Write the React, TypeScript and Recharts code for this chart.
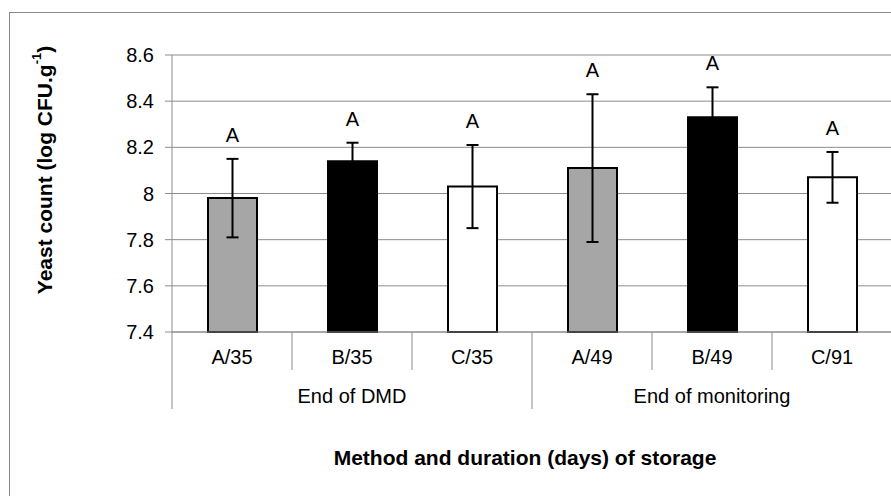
import { BarChart, Bar, XAxis, YAxis, CartesianGrid, ErrorBar, Cell, LabelList } from "recharts";

// data
const categories = ["A/35", "B/35", "C/35", "A/49", "B/49", "C/91"];
const groupOf = [0, 0, 0, 1, 1, 1];
const groups = ["End of DMD", "End of monitoring"];
const means = [7.98, 8.14, 8.03, 8.11, 8.33, 8.07];
const sds = [0.17, 0.08, 0.18, 0.32, 0.13, 0.11];
const letters = ["A", "A", "A", "A", "A", "A"];
const yTicks = [7.4, 7.6, 7.8, 8, 8.2, 8.4, 8.6];

// styling / layout
const fills = ["#a6a6a6", "#000000", "#ffffff", "#a6a6a6", "#000000", "#ffffff"];
const FONT = '"Liberation Sans", Arial, sans-serif';
const GRID = "#8c8c8c";
const CHART_W = 900;
const CHART_H = 496;
const MARGIN = { top: 55, right: 8, bottom: 84, left: 72 };
const Y_AXIS_W = 100;
const X_AXIS_H = 80;
const PLOT_LEFT = MARGIN.left + Y_AXIS_W;
const PLOT_BOTTOM = CHART_H - MARGIN.bottom - X_AXIS_H;
const BAND = (CHART_W - MARGIN.right - PLOT_LEFT) / categories.length;

const data = categories.map((name, i) => ({
  name,
  mean: means[i],
  err: sds[i],
  letter: letters[i],
}));

function XTick(props: any) {
  const { x, payload } = props;
  const i: number = props.index ?? payload.index;
  const g = groupOf[i];
  const first = groupOf.indexOf(g);
  const count = groupOf.filter((v) => v === g).length;
  const isFirst = i === first;
  const isLast = i === categories.length - 1;
  const half = BAND / 2;

  return (
    <g>
      <line
        x1={x - half}
        x2={x - half}
        y1={PLOT_BOTTOM}
        y2={PLOT_BOTTOM + (isFirst ? 77 : 38)}
        stroke={GRID}
      />
      {isLast && (
        <line x1={x + half} x2={x + half} y1={PLOT_BOTTOM} y2={PLOT_BOTTOM + 77} stroke={GRID} />
      )}
      <text
        x={x}
        y={PLOT_BOTTOM + 25}
        textAnchor="middle"
        dominantBaseline="central"
        fontSize={20}
        fontFamily={FONT}
        fill="#000"
      >
        {payload.value}
      </text>
      {isFirst && (
        <text
          x={x + ((count - 1) / 2) * BAND}
          y={PLOT_BOTTOM + 64}
          textAnchor="middle"
          dominantBaseline="central"
          fontSize={20}
          fontFamily={FONT}
          fill="#000"
        >
          {groups[g]}
        </text>
      )}
    </g>
  );
}

function LetterLabel(props: any) {
  const vb = props.viewBox ?? props;
  const { x, y, width, height } = vb;
  const i: number = props.index;
  const k = height / (means[i] - yTicks[0]);
  const errTop = y - sds[i] * k;
  return (
    <text
      x={x + width / 2}
      y={errTop - 24}
      textAnchor="middle"
      dominantBaseline="central"
      fontSize={20}
      fontFamily={FONT}
      fill="#000"
    >
      {letters[i]}
    </text>
  );
}

function YTitle() {
  const cx = 44;
  const cy = 170;
  return (
    <text
      x={cx}
      y={cy}
      transform={`rotate(-90, ${cx}, ${cy})`}
      textAnchor="middle"
      dominantBaseline="central"
      fontSize={21}
      fontWeight="bold"
      fontFamily={FONT}
      fill="#000"
    >
      Yeast count (log CFU.g
      <tspan baselineShift="super" fontSize={13}>
        -1
      </tspan>
      )
    </text>
  );
}

function XTitle() {
  return (
    <text
      x={525}
      y={457}
      textAnchor="middle"
      dominantBaseline="central"
      fontSize={21}
      fontWeight="bold"
      fontFamily={FONT}
      fill="#000"
    >
      Method and duration (days) of storage
    </text>
  );
}

export default function App() {
  return (
    <div
      style={{
        position: "absolute",
        left: 0,
        top: 0,
        width: 891,
        height: 496,
        overflow: "hidden",
        background: "#fff",
      }}
    >
      <div
        style={{
          position: "absolute",
          left: 9,
          top: 12,
          width: 1000,
          height: 600,
          border: "1px solid #8a8a8a",
        }}
      />
      <div style={{ position: "absolute", left: 0, top: 0 }}>
        <BarChart width={CHART_W} height={CHART_H} data={data} margin={MARGIN}>
          <CartesianGrid vertical={false} stroke={GRID} />
          <XAxis
            dataKey="name"
            height={X_AXIS_H}
            interval={0}
            tickLine={false}
            axisLine={{ stroke: GRID }}
            tick={<XTick />}
            label={<XTitle />}
          />
          <YAxis
            width={Y_AXIS_W}
            domain={[yTicks[0], yTicks[yTicks.length - 1]]}
            ticks={yTicks}
            tickSize={7}
            tickMargin={11}
            tickLine={{ stroke: GRID }}
            axisLine={{ stroke: GRID }}
            tick={{ fontSize: 20, fill: "#000", fontFamily: FONT }}
            tickFormatter={(v: number) => String(Number(v.toFixed(1)))}
            label={<YTitle />}
          />
          <Bar dataKey="mean" barSize={49} stroke="#000" strokeWidth={2} isAnimationActive={false}>
            {data.map((d, i) => (
              <Cell key={d.name} fill={fills[i]} />
            ))}
            <ErrorBar
              dataKey="err"
              direction="y"
              width={6}
              stroke="#000"
              strokeWidth={2}
              isAnimationActive={false}
            />
            <LabelList dataKey="letter" content={<LetterLabel />} />
          </Bar>
        </BarChart>
      </div>
    </div>
  );
}
